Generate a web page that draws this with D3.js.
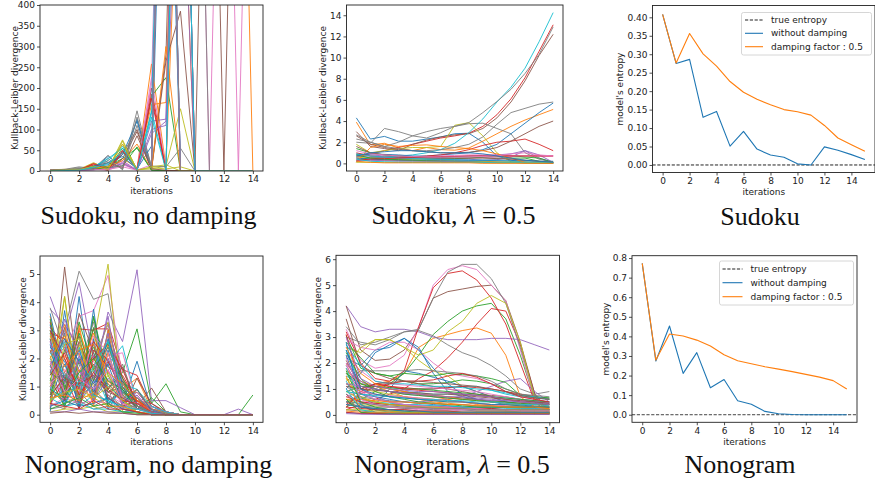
<!DOCTYPE html>
<html><head><meta charset="utf-8">
<script src="https://cdn.jsdelivr.net/npm/d3@7"></script>
<style>body{margin:0;background:#fff} svg{display:block} text.sans{font-family:"DejaVu Sans",sans-serif} text.serif{font-family:"Liberation Serif","Times New Roman",serif}</style>
</head><body><svg id="c" width="875" height="483"></svg>
<script>
// ---------------- data ----------------
const iterations = [0,1,2,3,4,5,6,7,8,9,10,11,12,13,14];
const iterations16 = [0,1,2,3,4,5,6,7,8,9,10,11,12,13,14,15];
const tab10 = ["#1f77b4","#ff7f0e","#2ca02c","#d62728","#9467bd","#8c564b","#e377c2","#7f7f7f","#bcbd22","#17becf"];

// Sudoku, no damping : KL divergence per variable (clipped at 400)
const sudokuNoDamping = [
 [1,0,2,5,35,10,125,3,1200,0,0,0,0,0,0],
 [2,4,3,18,8,65,5,258,10,900,0,0,0,0,0],
 [1,2,1,8,5,55,2,180,225,0,0,0,0,0,0],
 [2,3,1,16,4,50,3,200,2,1500,0,0,0,0,0],
 [0,1,2,6,3,20,2,120,125,1500,0,0,0,0,0],
 [1,2,5,10,4,40,100,5,280,1500,0,1500,0,1500,1500],
 [0,1,3,4,2,15,3,225,3,1500,1500,0,1500,0,1500],
 [3,4,10,6,38,4,145,8,1500,1500,1500,0,0,0,0],
 [1,2,4,20,5,75,3,5,12,150,0,0,0,0,0],
 [1,1,3,12,25,60,5,145,3,1500,0,0,0,0,0],
 [2,1,5,10,15,40,120,2,1500,0,0,0,0,0,0],
 [1,2,3,10,2,30,8,160,165,1500,1500,1500,1500,1500,0],
 [0,1,2,5,12,30,55,2,0,0,0,0,0,0,0],
 [1,2,4,14,2,48,3,185,0,0,0,0,0,0,0],
 [0,0,1,3,8,25,2,100,110,900,0,0,0,0,0],
 [1,1,3,8,2,30,95,3,265,385,0,0,0,0,0],
 [0,1,2,5,3,22,2,210,1500,0,0,0,0,0,0],
 [2,3,8,5,30,3,130,12,10,55,0,0,0,0,0],
 [1,3,5,8,3,72,3,8,5,10,0,0,0,0,0],
 [0,2,4,10,30,55,3,140,1500,0,0,0,0,0,0],
 [1,2,3,12,20,35,5,60,1500,0,0,0,0,0,0],
 [2,1,4,6,10,25,65,3,300,0,0,0,0,0,0],
 [0,1,2,4,8,12,58,2,1,0,0,0,0,0,0],
 [1,1,2,18,3,45,4,175,1,0,0,0,0,0,0],
 [0,1,1,3,5,18,2,90,120,1500,0,0,0,0,0],
 [1,2,3,6,20,8,85,5,2,0,0,0,0,0,0],
 [0,1,2,3,4,10,2,15,1500,0,0,0,0,0,0],
 [2,2,6,4,25,5,110,6,1500,0,0,0,0,0,0],
 [1,2,3,12,4,65,2,10,15,0,0,0,0,0,0],
 [0,1,2,8,18,45,3,130,2,1500,0,0,0,0,0]
];

// Sudoku, lambda = 0.5
const sudokuDamped = [
 [4.3,2.3,2.55,2.1,2.1,2.3,2.5,2.8,2.85,2.0,0.7,0.3,0.1,0.05,0.0],
 [3.9,1.75,1.9,1.45,1.2,1.5,1.3,1.25,1.45,2.1,2.8,3.5,4.1,4.6,5.1],
 [1.4,1.0,0.8,0.7,0.6,0.5,0.55,0.6,0.6,0.55,0.5,0.5,0.5,0.2,0.1],
 [0.6,0.9,1.2,1.5,1.8,2.1,2.4,2.6,2.85,3.5,4.6,6.1,8.1,10.6,13.1],
 [0.9,0.8,0.7,0.6,0.5,0.5,0.45,0.4,0.4,0.3,0.35,0.6,1.2,0.5,0.1],
 [3.0,1.6,1.4,1.2,1.8,2.2,2.5,2.7,2.8,3.3,4.3,5.8,7.8,10.2,12.2],
 [0.5,0.4,0.35,0.3,0.3,0.3,0.35,0.4,0.5,0.55,0.6,0.65,0.7,0.7,0.7],
 [2.0,1.9,3.3,3.0,2.6,2.4,2.9,3.5,3.75,3.8,3.3,2.8,1.0,0.4,0.1],
 [1.8,1.0,1.2,1.4,1.5,1.5,1.6,3.6,3.85,2.6,1.0,0.15,0.05,0,0],
 [0.3,0.5,0.6,0.7,0.8,1.0,1.3,1.9,2.9,4.2,5.8,7.2,9.0,11.5,14.25],
 [0.8,0.9,0.85,0.8,0.7,0.7,0.8,0.9,1.0,1.3,1.8,2.8,3.8,4.8,5.7],
 [0.4,0.35,0.3,0.3,0.25,0.2,0.2,0.2,0.2,0.2,0.15,0.1,0.1,0.05,0.05],
 [0.2,0.6,0.55,0.5,0.45,0.4,0.4,0.45,0.5,0.6,0.7,0.75,0.6,0.5,0.1],
 [1.0,0.7,0.6,0.55,0.6,0.7,0.8,1.0,1.3,1.7,2.0,2.1,2.3,1.8,1.2],
 [0.7,0.6,0.55,0.5,0.5,0.55,0.6,0.65,0.7,0.75,0.8,0.9,1.2,0.8,0.1],
 [2.6,1.8,1.5,1.3,1.2,1.1,1.0,1.0,1.05,1.2,1.5,2.1,2.8,3.5,4.0],
 [0.3,0.3,0.35,0.4,0.5,0.6,0.7,0.75,0.8,0.8,0.8,0.75,0.7,0.7,0.7],
 [2.7,2.0,1.6,2.0,2.6,3.0,3.3,3.5,3.85,4.8,5.85,7.0,8.5,10.3,12.9],
 [0.6,0.5,0.45,0.4,0.35,0.3,0.25,0.2,0.2,0.15,0.1,0.1,0.05,0.05,0.05],
 [0.9,0.7,0.6,0.5,0.45,0.4,0.4,0.35,0.3,0.3,0.25,0.2,0.15,0.1,0.1],
 [0.5,0.4,0.35,0.3,0.3,0.3,0.3,0.3,0.3,0.3,0.3,0.3,0.25,0.2,0.2],
 [0.1,1.5,1.8,1.6,1.7,1.75,1.6,1.5,1.4,1.2,0.9,0.5,0.1,0.05,0],
 [0.8,0.5,0.4,0.35,0.3,0.25,0.2,0.2,0.15,0.1,0.1,0.1,0.05,0.05,0],
 [0.3,0.4,0.45,0.5,0.55,0.6,0.65,0.65,0.7,0.7,0.7,0.7,0.7,0.7,0.7],
 [0.2,0.3,0.25,0.2,0.2,0.2,0.2,0.15,0.15,0.1,0.1,0.1,0.1,0.05,0.05],
 [1.6,1.0,0.8,0.7,0.6,0.55,0.5,0.5,0.5,0.5,0.45,0.4,0.3,0.2,0.1],
 [1.2,0.9,0.8,0.7,0.65,0.6,0.6,0.6,0.6,0.65,0.7,0.9,1.0,0.8,0.7],
 [2.3,2.0,1.6,1.4,1.2,1.2,1.3,1.5,1.8,2.5,3.7,4.8,5.2,5.6,5.8],
 [0.1,0.1,0.1,0.1,0.1,0.1,0.1,0.1,0.1,0.1,0.1,0.1,0.1,0.1,0.1],
 [0.4,0.2,0.15,0.1,0.1,0.1,0.1,0.1,0.1,0.1,0.05,0.05,0.05,0.05,0.05],
 [0.7,1.0,1.1,1.2,1.2,1.1,1.0,1.0,1.0,0.9,0.7,0.5,0.3,0.2,0.1],
 [0.2,0.1,0.05,0.05,0.05,0.05,0.05,0.05,0.05,0,0,0,0,0,0]
];

// Sudoku entropy
const sudokuTrueEntropy = 0;
const sudokuWithout = [0.408,0.275,0.286,0.129,0.145,0.051,0.091,0.043,0.027,0.021,0.003,0.000,0.049,0.040,0.028,0.015];
const sudokuDamping = [0.408,0.276,0.356,0.301,0.268,0.226,0.197,0.178,0.163,0.150,0.144,0.135,0.107,0.073,0.055,0.037];

// Nonogram, no damping
const nonogramNoDamping = [
 [2.5,0.3,4.2,0.5,3.0,0.4,1.9,0.2,0.1,0,0,0,0,0,0],
 [3.5,0.8,3.0,1.5,2.8,0.3,0.9,0.1,0,0,0,0,0,0,0],
 [1.2,2.9,0.6,3.5,0.9,1.5,3.05,0.4,1.1,0.1,0,0,0,0,0],
 [3.3,0.5,3.05,3.0,3.25,1.6,1.4,0.3,0.1,0,0,0,0,0,0],
 [3.75,3.2,2.4,1.2,3.65,2.6,5.15,0.5,0.5,0.25,0,0,0,0.2,0],
 [0.2,5.25,1.0,2.1,0.5,0.8,0.3,0.95,0.1,0,0,0,0,0,0],
 [1.0,2.2,3.5,3.7,4.95,1.2,0.6,0.2,0.1,0,0,0,0,0,0],
 [0.5,3.0,5.1,4.1,4.3,1.0,0.5,0.3,0.1,0,0,0,0,0,0],
 [0.3,4.2,0.2,2.6,5.35,0.1,0.2,0.1,0,0,0,0,0,0,0],
 [2.9,0.6,2.4,0.4,1.8,2.45,0.4,0.1,0,0,0,0,0,0,0],
 [0.1,3.7,0.3,3.75,0.2,1.0,0.2,0.3,0.05,0,0,0,0,0,0],
 [1.8,0.2,3.2,0.6,2.5,0.9,1.3,0.2,0.1,0,0,0,0,0,0],
 [3.0,1.0,0.8,3.45,1.4,0.5,0.2,0.6,0.1,0,0,0,0,0,0.7],
 [2.9,2.7,1.1,3.05,3.05,1.3,0.5,0.4,0.1,0,0,0,0,0,0],
 [4.2,2.8,4.7,2.0,3.2,1.0,0.2,0.3,0.1,0,0,0,0,0,0],
 [1.5,3.1,1.8,2.5,0.6,0.2,1.3,0.4,0.05,0,0,0,0,0,0],
 [0.3,1.5,2.6,1.1,2.1,2.2,0.4,0.3,0.1,0,0,0,0,0,0],
 [2.0,0.9,1.7,3.3,0.5,1.8,0.3,0.1,0,0,0,0,0,0,0],
 [1.1,4.2,0.5,1.7,3.3,0.6,0.5,0.2,0.05,0,0,0,0,0,0],
 [2.7,0.3,1.5,2.2,1.0,1.1,0.9,0.3,0.1,0,0,0,0,0,0],
 [3.2,0.5,2.0,0.7,2.3,0.4,0.6,0.1,0,0,0,0,0,0,0],
 [2.2,3.2,0.4,2.0,1.2,0.7,0.8,0.2,0,0,0,0,0,0,0],
 [0.7,2.3,1.2,3.1,0.3,1.2,0.4,0.1,0,0,0,0,0,0,0],
 [3.1,2.5,0.2,2.0,2.5,1.6,0.4,0.2,0,0,0,0,0,0,0],
 [1.6,0.4,2.1,0.8,1.6,0.3,0.5,0.1,0,0,0,0,0,0,0],
 [1.9,1.3,2.8,0.6,1.9,0.9,0.2,0.1,0,0,0,0,0,0,0],
 [2.6,0.8,1.4,1.9,0.7,0.4,0.7,0.1,0,0,0,0,0,0,0],
 [0.9,2.0,0.5,1.4,2.0,0.7,0.3,0.2,0,0,0,0,0,0,0],
 [2.1,0.6,2.5,1.0,1.5,0.6,0.3,0.1,0,0,0,0,0,0,0],
 [1.4,2.6,0.9,1.6,0.4,0.8,0.6,0.1,0,0,0,0,0,0,0],
 [0.6,1.8,0.4,1.2,1.1,0.5,0.2,0.1,0,0,0,0,0,0,0],
 [2.8,1.5,2.2,0.3,3.0,0.5,0.4,0.1,0,0,0,0,0,0,0],
 [1.3,0.3,1.9,2.4,0.8,1.0,0.2,0.1,0,0,0,0,0,0,0],
 [0.4,1.2,1.0,1.8,0.6,0.3,0.5,0.1,0,0,0,0,0,0,0],
 [1.7,1.0,1.6,0.5,1.3,0.6,0.3,0.05,0,0,0,0,0,0,0],
 [0.8,0.5,1.1,0.9,0.4,0.2,0.2,0.1,0,0,0,0,0,0,0],
 [1.2,0.7,0.6,1.0,1.0,0.4,0.1,0.05,0,0,0,0,0,0,0],
 [0.4,0.2,0.8,0.3,0.6,0.2,0.1,0,0,0,0,0,0,0,0],
 [0.9,0.4,0.7,0.6,0.3,0.3,0.1,0.05,0,0,0,0,0,0,0],
 [0.5,0.9,0.3,0.7,0.5,0.2,0.2,0.05,0,0,0,0,0,0,0],
 [2.4,1.9,0.3,2.7,0.4,0.9,0.2,0.1,0,0,0,0,0,0,0],
 [1.0,2.1,1.3,0.4,2.2,0.5,0.6,0.1,0,0,0,0,0,0,0],
 [3.4,0.9,2.9,1.2,2.6,0.7,0.3,0.1,0,0,0,0,0,0,0],
 [0.6,1.4,0.2,2.3,1.7,1.4,0.5,0.2,0,0,0,0,0,0,0],
 [1.8,2.4,1.6,0.9,2.9,0.2,0.7,0.1,0,0,0,0,0,0,0],
 [2.3,0.7,2.6,1.3,0.8,1.2,0.2,0.1,0,0,0,0,0,0,0],
 [0.3,0.6,0.4,0.5,0.4,0.2,0.1,0,0,0,0,0,0,0,0],
 [0.2,0.3,0.5,0.2,0.3,0.1,0.1,0,0,0,0,0,0,0,0],
 [0.1,0.2,0.2,0.3,0.1,0.1,0,0,0,0,0,0,0,0,0],
 [0.6,0.3,0.4,0.2,0.2,0.1,0.1,0,0,0,0,0,0,0,0],
 [3.6,1.2,2.3,0.8,2.7,1.1,0.4,0.1,0,0,0,0,0,0,0],
 [2.0,2.8,1.5,2.9,1.1,0.6,0.9,0.2,0,0,0,0,0,0,0],
 [1.5,1.1,3.3,1.6,2.4,1.3,0.3,0.1,0,0,0,0,0,0,0],
 [3.0,2.0,0.9,2.6,1.9,0.8,0.5,0.1,0,0,0,0,0,0,0],
 [0.8,3.4,2.1,1.3,3.5,0.4,0.8,0.2,0,0,0,0,0,0,0],
 [2.7,0.5,3.6,2.2,0.9,1.7,0.3,0.1,0,0,0,0,0,0,0],
 [1.1,1.6,0.8,2.8,2.2,0.6,0.4,0.1,0,0,0,0,0,0,0],
 [3.8,2.3,1.2,1.5,2.4,1.0,0.6,0.2,0.05,0,0,0,0,0,0],
 [0.4,2.5,2.7,0.6,1.4,0.5,0.2,0.1,0,0,0,0,0,0,0],
 [2.2,1.4,1.0,1.7,2.6,0.8,0.3,0.1,0,0,0,0,0,0,0],
 [1.7,2.7,1.9,1.1,1.8,0.4,0.9,0.15,0,0,0,0,0,0,0],
 [2.9,1.7,2.3,2.5,1.5,1.1,0.5,0.1,0,0,0,0,0,0,0],
 [0.9,0.6,1.5,2.0,1.2,0.9,0.2,0.1,0,0,0,0,0,0,0],
 [1.4,2.2,0.7,1.5,0.9,0.5,0.4,0.1,0,0,0,0,0,0,0],
 [2.6,1.1,1.9,0.5,2.0,0.7,0.2,0.1,0,0,0,0,0,0,0],
 [0.7,1.3,1.1,1.4,0.8,0.6,0.3,0.05,0,0,0,0,0,0,0],
 [1.9,0.8,1.3,0.9,1.6,0.4,0.2,0.05,0,0,0,0,0,0,0],
 [1.2,1.5,0.6,1.1,0.7,0.3,0.3,0.05,0,0,0,0,0,0,0],
 [0.5,0.8,0.9,0.6,1.0,0.5,0.1,0,0,0,0,0,0,0,0],
 [1.0,0.4,1.2,0.7,0.5,0.3,0.2,0.05,0,0,0,0,0,0,0],
 [0.3,0.5,0.3,0.4,0.6,0.2,0.1,0,0,0,0,0,0,0,0],
 [0.6,0.7,0.5,0.8,0.3,0.3,0.1,0,0,0,0,0,0,0,0],
 [0.2,0.4,0.6,0.3,0.4,0.1,0.05,0,0,0,0,0,0,0,0],
 [0.4,0.3,0.2,0.5,0.2,0.2,0.1,0,0,0,0,0,0,0,0],
 [0.1,0.1,0.2,0.1,0.1,0.05,0,0,0,0,0,0,0,0,0],
 [0.05,0.1,0.05,0.1,0.05,0.05,0,0,0,0,0,0,0,0,0]
];

// Nonogram, lambda = 0.5
const nonogramDamped = [
 [2.2,1.9,2.5,2.6,2.95,2.6,1.6,0.9,0.7,0.6,0.5,0.45,0.4,0.35,0.3],
 [1.8,1.0,1.2,1.3,1.6,2.6,2.95,3.1,3.25,3.35,3.15,2.3,0.7,0.3,0.2],
 [0.3,0.6,0.9,1.2,1.6,2.3,3.1,3.6,4.0,4.2,4.3,3.7,2.3,0.6,0.1],
 [0.2,0.4,0.6,0.8,1.0,1.4,1.7,2.2,2.8,3.5,4.1,4.0,2.7,0.8,0.1],
 [4.2,3.4,3.2,3.3,3.3,3.2,3.0,2.9,2.9,2.9,2.95,2.95,2.9,2.7,2.5],
 [4.2,2.5,2.1,2.15,2.5,3.3,4.5,4.75,4.85,4.95,5.0,4.4,2.8,0.8,0.1],
 [3.3,2.1,1.8,1.9,2.3,3.4,5.0,5.6,5.75,5.6,5.0,4.4,2.5,0.5,0.05],
 [3.0,2.8,2.7,2.9,3.2,3.25,3.05,2.7,2.4,2.2,1.9,1.5,1.0,0.8,0.9],
 [2.6,2.4,2.9,2.9,2.6,2.1,1.7,1.5,1.1,0.9,0.7,0.5,0.3,0.2,0.15],
 [1.5,1.2,1.1,1.05,1.0,1.0,1.0,1.05,1.1,1.1,0.95,0.8,0.7,0.65,0.6],
 [0.5,0.7,0.4,1.0,1.7,1.6,1.45,1.3,1.1,0.9,0.7,0.5,0.4,0.3,0.2],
 [1.7,1.3,1.1,0.9,0.7,0.6,0.5,0.45,0.4,0.35,0.3,0.3,0.25,0.25,0.2],
 [3.05,1.8,1.6,1.5,1.3,1.2,1.2,1.25,1.35,1.3,1.2,1.0,0.8,0.7,0.65],
 [3.2,2.0,1.4,1.3,1.7,3.4,4.9,5.45,5.55,5.2,4.5,3.5,2.0,0.5,0.05],
 [1.2,0.8,0.6,0.5,0.5,0.5,0.55,0.6,0.7,0.9,1.1,1.3,1.4,0.9,0.5],
 [3.7,1.9,1.6,1.4,1.3,1.2,1.1,1.0,0.9,0.8,0.75,0.7,0.6,0.5,0.45],
 [2.9,2.6,2.5,2.8,2.8,2.5,2.0,1.6,1.5,1.4,1.2,0.9,0.7,0.6,0.5],
 [3.4,2.7,2.8,3.0,3.2,3.3,4.5,5.5,5.8,5.8,5.25,4.3,2.6,0.7,0.05],
 [1.9,2.6,2.9,2.9,2.6,2.3,2.5,3.2,3.6,4.3,4.6,4.3,2.8,0.6,0.1],
 [2.5,1.2,1.1,1.0,0.9,0.85,0.8,0.8,0.8,0.75,0.7,0.65,0.6,0.55,0.5],
 [1.0,1.6,2.4,2.7,2.95,2.5,1.8,1.2,0.8,0.6,0.5,0.4,0.35,0.3,0.25],
 [2.0,1.2,1.1,1.0,0.9,0.8,0.7,0.6,0.5,0.4,0.35,0.3,0.3,0.25,0.25],
 [2.8,2.2,1.6,1.5,1.6,1.55,1.5,1.6,1.55,1.5,1.4,1.25,0.75,0.7,0.65],
 [3.1,1.0,1.2,1.1,1.05,1.0,1.0,1.05,1.1,1.05,1.0,0.9,0.8,0.7,0.6],
 [0.8,0.5,0.45,0.4,0.4,0.35,0.35,0.3,0.3,0.3,0.3,0.3,0.3,0.3,0.3],
 [2.1,1.1,1.0,0.9,0.85,0.8,0.75,0.7,0.65,0.6,0.55,0.5,0.45,0.4,0.4],
 [2.3,1.7,1.3,1.2,1.15,1.1,1.05,1.0,0.95,0.9,0.8,0.7,0.6,0.55,0.5],
 [1.3,1.7,1.7,1.7,1.7,1.75,1.7,1.65,1.6,1.5,1.3,1.0,0.8,0.75,0.7],
 [1.4,1.0,0.9,0.8,0.7,0.6,0.55,0.5,0.5,0.45,0.4,0.4,0.35,0.3,0.3],
 [2.7,1.9,1.3,1.2,1.2,1.15,1.1,1.1,1.05,1.0,0.95,0.85,0.75,0.7,0.6],
 [2.3,0.8,0.7,0.6,0.5,0.45,0.4,0.35,0.3,0.3,0.25,0.2,0.2,0.2,0.2],
 [1.2,0.9,0.8,0.7,0.7,0.65,0.6,0.55,0.5,0.45,0.4,0.35,0.3,0.3,0.3],
 [0.9,1.1,1.1,1.05,1.0,1.0,0.95,0.9,0.85,0.8,0.7,0.65,0.6,0.55,0.5],
 [0.4,0.8,1.1,1.2,1.3,1.3,1.35,1.5,1.6,1.45,1.2,0.9,0.7,0.6,0.5],
 [2.0,1.3,1.0,0.9,0.8,0.75,0.7,0.65,0.6,0.6,0.55,0.55,0.5,0.5,0.45],
 [1.6,1.0,1.2,1.25,1.3,1.3,1.25,1.2,1.15,1.1,1.0,0.9,0.75,0.65,0.6],
 [0.7,0.9,0.8,0.75,0.7,0.65,0.6,0.55,0.5,0.45,0.4,0.35,0.3,0.25,0.2],
 [1.1,0.7,0.6,0.55,0.5,0.45,0.45,0.4,0.4,0.35,0.35,0.3,0.3,0.3,0.3],
 [0.6,0.4,0.35,0.3,0.3,0.25,0.25,0.2,0.2,0.2,0.2,0.15,0.15,0.15,0.15],
 [1.8,0.6,0.5,0.45,0.4,0.4,0.35,0.35,0.3,0.3,0.3,0.25,0.25,0.25,0.2],
 [2.8,0.4,0.1,0.05,0.05,0.05,0.05,0.05,0.05,0.05,0.05,0.05,0.05,0.05,0.05],
 [1.5,0.1,0.05,0.05,0.05,0.05,0.05,0.05,0.05,0.05,0.05,0.05,0.05,0.05,0.05],
 [2.4,1.4,0.9,0.7,0.6,0.5,0.45,0.4,0.35,0.3,0.3,0.3,0.3,0.3,0.3],
 [0.3,0.9,1.2,1.1,1.0,0.95,0.9,0.85,0.8,0.75,0.7,0.6,0.5,0.45,0.4],
 [1.9,1.0,0.7,0.5,0.4,0.35,0.3,0.25,0.2,0.2,0.2,0.2,0.2,0.2,0.2],
 [0.5,0.3,0.25,0.2,0.2,0.15,0.15,0.15,0.1,0.1,0.1,0.1,0.1,0.1,0.1],
 [1.0,0.5,0.4,0.3,0.25,0.2,0.2,0.2,0.15,0.15,0.15,0.15,0.15,0.1,0.1],
 [0.2,0.15,0.1,0.1,0.1,0.1,0.1,0.1,0.1,0.1,0.1,0.1,0.1,0.1,0.1],
 [0.9,0.6,0.5,0.4,0.35,0.3,0.3,0.25,0.25,0.2,0.2,0.2,0.2,0.2,0.2],
 [1.3,0.4,0.2,0.1,0.1,0.05,0.05,0.05,0.05,0.05,0.05,0.05,0.05,0.05,0.05],
 [0.1,0.05,0.05,0.05,0.05,0.05,0.05,0.05,0.05,0.05,0.05,0.05,0.05,0.05,0.05],
 [2.6,1.6,1.2,1.0,0.9,0.8,0.75,0.7,0.6,0.55,0.5,0.45,0.4,0.4,0.35],
 [1.6,1.2,1.0,0.9,0.8,0.75,0.7,0.65,0.6,0.55,0.5,0.5,0.45,0.45,0.4],
 [0.7,0.5,0.45,0.4,0.35,0.3,0.3,0.3,0.25,0.25,0.25,0.2,0.2,0.2,0.2],
 [3.0,1.4,1.1,1.0,0.95,0.9,0.9,0.85,0.8,0.75,0.7,0.6,0.55,0.5,0.45],
 [1.1,1.0,0.95,0.9,0.85,0.85,0.8,0.8,0.75,0.7,0.65,0.6,0.55,0.5,0.45],
 [2.2,0.9,0.6,0.5,0.4,0.35,0.3,0.3,0.25,0.25,0.2,0.2,0.2,0.2,0.15],
 [0.4,0.35,0.3,0.3,0.25,0.25,0.2,0.2,0.2,0.15,0.15,0.15,0.15,0.15,0.15],
 [1.4,0.7,0.5,0.4,0.35,0.3,0.3,0.25,0.25,0.2,0.2,0.2,0.2,0.2,0.2],
 [0.9,0.8,0.75,0.7,0.65,0.6,0.6,0.55,0.55,0.5,0.5,0.45,0.4,0.4,0.35],
 [2.5,1.0,0.8,0.7,0.65,0.6,0.55,0.5,0.5,0.45,0.4,0.4,0.35,0.3,0.3],
 [0.6,0.6,0.55,0.5,0.5,0.45,0.45,0.4,0.4,0.35,0.35,0.3,0.3,0.3,0.25],
 [1.7,0.5,0.3,0.2,0.15,0.1,0.1,0.1,0.1,0.1,0.1,0.1,0.1,0.1,0.1],
 [0.3,0.25,0.2,0.2,0.2,0.15,0.15,0.15,0.1,0.1,0.1,0.1,0.1,0.1,0.1],
 [1.2,1.1,1.0,0.9,0.85,0.8,0.75,0.7,0.7,0.65,0.6,0.55,0.5,0.45,0.4],
 [0.8,0.3,0.2,0.15,0.1,0.1,0.1,0.1,0.05,0.05,0.05,0.05,0.05,0.05,0.05],
 [2.0,0.6,0.4,0.3,0.3,0.25,0.25,0.2,0.2,0.2,0.2,0.2,0.15,0.15,0.15],
 [0.5,0.45,0.4,0.35,0.3,0.3,0.25,0.25,0.25,0.2,0.2,0.2,0.2,0.2,0.2],
 [0.2,0.2,0.15,0.15,0.1,0.1,0.1,0.1,0.1,0.1,0.1,0.1,0.1,0.1,0.1],
 [1.0,0.2,0.1,0.05,0.05,0.05,0.05,0.05,0.05,0.05,0.05,0.05,0.05,0.05,0.05],
 [0.4,0.3,0.25,0.2,0.15,0.15,0.1,0.1,0.1,0.1,0.1,0.1,0.1,0.1,0.1],
 [0.15,0.1,0.1,0.1,0.05,0.05,0.05,0.05,0.05,0.05,0.05,0.05,0.05,0.05,0.05],
 [0.6,0.1,0.05,0.03,0.03,0.03,0.03,0.03,0.03,0.03,0.03,0.03,0.03,0.03,0.03],
 [0.1,0.05,0.05,0.03,0.03,0.03,0.03,0.03,0.03,0.03,0.03,0.03,0.03,0.03,0.03],
 [0.05,0.03,0.02,0.02,0.02,0.02,0.02,0.02,0.02,0.02,0.02,0.02,0.02,0.02,0.02]
];

// Nonogram entropy
const nonogramWithout = [0.773,0.274,0.453,0.211,0.317,0.138,0.180,0.071,0.053,0.017,0.005,0.001,0.000,0.000,0.000,0.000];
const nonogramDamping = [0.773,0.279,0.412,0.402,0.381,0.351,0.306,0.276,0.260,0.245,0.233,0.220,0.206,0.192,0.174,0.131];

const xTicks = [0,2,4,6,8,10,12,14];
const captionsTop = ["Sudoku, no damping","Sudoku, ","Sudoku"];
const captionsBottom = ["Nonogram, no damping","Nonogram, ","Nonogram"];
const legendLabels = ["true entropy","without damping","damping factor : 0.5"];

// ---------------- drawing ----------------
const svg = d3.select("#c");
const FS = 9;
let clipN = 0;

function panel(p){
  const x = d3.scaleLinear().domain(p.xd).range([p.l,p.r]);
  const y = d3.scaleLinear().domain(p.yd).range([p.b,p.t]);
  const g = svg.append("g");
  const id = "clip"+(clipN++);
  g.append("clipPath").attr("id",id).append("rect")
    .attr("x",p.l).attr("y",p.t).attr("width",p.r-p.l).attr("height",p.b-p.t);
  const lg = g.append("g").attr("clip-path",`url(#${id})`);
  const line = d3.line().x((d,i)=>x(p.xs[i])).y(d=>y(d));
  if (p.hline !== undefined){
    lg.append("line").attr("x1",p.l).attr("x2",p.r).attr("y1",y(p.hline)).attr("y2",y(p.hline))
      .attr("stroke",p.hcolor||"#222").attr("stroke-width",1).attr("stroke-dasharray","3.2,1.6");
  }
  lg.selectAll("path.s").data(p.series).join("path").attr("class","s")
    .attr("d",d=>line(d.v)).attr("fill","none")
    .attr("stroke",d=>d.c).attr("stroke-width",p.lw||0.9).attr("stroke-linejoin","round");
  const ax = g.append("g").attr("transform",`translate(0,${p.b})`)
    .call(d3.axisBottom(x).tickValues(xTicks).tickSize(3).tickPadding(2));
  const ay = g.append("g").attr("transform",`translate(${p.l},0)`)
    .call(d3.axisLeft(y).tickValues(p.yt).tickSize(3).tickPadding(2).tickFormat(p.yf||d3.format("d")));
  [ax,ay].forEach(a=>{
    a.select(".domain").remove();
    a.selectAll("text").attr("class","sans").attr("font-size",FS).attr("fill","#222");
    a.selectAll("line").attr("stroke","#222").attr("stroke-width",0.8);
  });
  g.append("rect").attr("x",p.l).attr("y",p.t).attr("width",p.r-p.l).attr("height",p.b-p.t)
    .attr("fill","none").attr("stroke","#222").attr("stroke-width",0.9);
  g.append("text").attr("class","sans").attr("x",(p.l+p.r)/2).attr("y",p.b+22.5).attr("text-anchor","middle")
    .attr("font-size",FS).attr("fill","#222").text("iterations");
  g.append("text").attr("class","sans").attr("transform",`translate(${p.ylx},${(p.t+p.b)/2}) rotate(-90)`)
    .attr("text-anchor","middle").attr("dy","0.35em").attr("font-size",FS).attr("fill","#222").text(p.ylabel);
  return {x,y,g};
}

function multi(arr){ return arr.map((v,i)=>({v, c:tab10[i%10]})); }

const KL = "Kullback-Leibler divergence";
panel({l:40,r:263,t:5,b:171,xd:[-0.7,14.7],yd:[0,400],xs:iterations,
  series:multi(sudokuNoDamping),yt:[0,50,100,150,200,250,300,350,400],ylabel:KL,ylx:15});
panel({l:346.5,r:563,t:5,b:171,xd:[-0.7,14.7],yd:[-0.72,14.97],xs:iterations,
  series:multi(sudokuDamped),yt:[0,2,4,6,8,10,12,14],ylabel:KL,ylx:322.5});
panel({l:652.5,r:875,t:5.5,b:172.5,xd:[-0.75,15.75],yd:[-0.0204,0.432],xs:iterations16,lw:1.1,
  hline:sudokuTrueEntropy,
  series:[{v:sudokuWithout,c:tab10[0]},{v:sudokuDamping,c:tab10[1]}],
  yt:[0,0.05,0.1,0.15,0.2,0.25,0.3,0.35,0.4],yf:d3.format(".2f"),ylabel:"model's entropy",ylx:620});
panel({l:40,r:263,t:256,b:422.3,xd:[-0.7,14.7],yd:[-0.27,5.64],xs:iterations,
  series:multi(nonogramNoDamping),yt:[0,1,2,3,4,5],ylabel:KL,ylx:22.5});
panel({l:336,r:559.5,t:255.3,b:422.7,xd:[-0.7,14.7],yd:[-0.3,6.15],xs:iterations,
  series:multi(nonogramDamped),yt:[0,1,2,3,4,5,6],ylabel:KL,ylx:318});
panel({l:632,r:857,t:255.7,b:422.3,xd:[-0.75,15.75],yd:[-0.0387,0.812],xs:iterations16,lw:1.1,
  hline:0, hcolor:"#444",
  series:[{v:nonogramWithout,c:tab10[0]},{v:nonogramDamping,c:tab10[1]}],
  yt:[0,0.1,0.2,0.3,0.4,0.5,0.6,0.7,0.8],yf:d3.format(".1f"),ylabel:"model's entropy",ylx:606});

function legend(L){
  const g = svg.append("g");
  g.append("rect").attr("x",L.x0).attr("y",L.y0).attr("width",L.x1-L.x0).attr("height",L.y1-L.y0)
    .attr("rx",2).attr("fill","#fff").attr("fill-opacity",0.85).attr("stroke","#ccc").attr("stroke-width",0.8);
  const styles=[{c:"#222",d:"3.2,1.6"},{c:tab10[0],d:null},{c:tab10[1],d:null}];
  legendLabels.forEach((t,i)=>{
    const yy = L.rows[i];
    g.append("line").attr("x1",L.h0).attr("x2",L.h1).attr("y1",yy).attr("y2",yy)
      .attr("stroke",styles[i].c).attr("stroke-width",1.1).attr("stroke-dasharray",styles[i].d);
    g.append("text").attr("class","sans").attr("x",L.tx).attr("y",yy).attr("dy","0.35em")
      .attr("font-size",FS).attr("fill","#222").text(t);
  });
}
legend({x0:741.5,x1:871.5,y0:12.5,y1:55,rows:[20,33.3,46.7],h0:745,h1:763,tx:771});
legend({x0:719.5,x1:853.5,y0:261,y1:305,rows:[269,282.7,296.7],h0:722.5,h1:742.5,tx:750.5});

// captions
function caption(cx,by,txt,lam){
  const t = svg.append("text").attr("class","serif").attr("x",cx).attr("y",by).attr("text-anchor","middle")
    .attr("font-size",26).attr("fill","#111");
  t.append("tspan").text(txt);
  if(lam){
    t.append("tspan").attr("font-style","italic").text("λ");
    t.append("tspan").text(" = 0.5");
  }
}
caption(148.5,224,captionsTop[0],false);
caption(453.5,224,captionsTop[1],true);
caption(760,225,captionsTop[2],false);
caption(148.5,473,captionsBottom[0],false);
caption(452,473,captionsBottom[1],true);
caption(740,473,captionsBottom[2],false);
</script></body></html>
